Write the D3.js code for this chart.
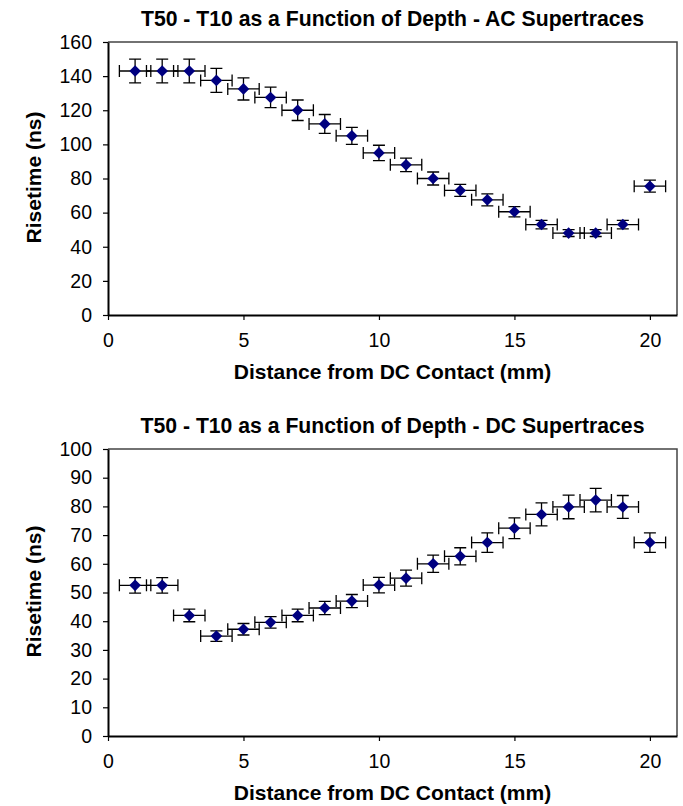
<!DOCTYPE html>
<html>
<head>
<meta charset="utf-8">
<script src="https://cdn.jsdelivr.net/npm/d3@7/dist/d3.min.js"></script>
<style>
	body { margin: 0; background: #fff; }
	svg text { font-family: Arial, "Liberation Sans", sans-serif; fill: #000; }
	.title { font-size: 21.2px; font-weight: bold; }
	.axis-title { font-size: 21px; font-weight: bold; }
	.tick text { font-size: 19.5px; }
	.frame { fill: none; stroke: #444; stroke-width: 1.5; }
	.axis path.domain { stroke: #000; stroke-width: 2; }
	.axis .tick line { stroke: #000; stroke-width: 1.2; }
	.errbar { stroke: #000; stroke-width: 1.3; fill: none; }
	.mark { fill: #000080; }
</style>
</head>
<body>
<div id="chart"></div>
<script>

	const depthMm = [ 1, 2, 3, 4, 5, 6, 7, 8, 9, 10, 11, 12, 13, 14, 15, 16, 17, 18, 19, 20 ];
	const depthError = 0.58;

	const acRisetime = [ 143, 143, 143, 137.5, 132.5, 127.5, 120, 112, 105, 95, 88, 80, 73, 67.5, 60.5, 53, 48, 48, 53, 75.5 ];
	const acError = [ 7, 7, 7, 7, 6.5, 6, 6, 5.5, 5, 4.5, 4, 3.8, 3.5, 3.5, 3, 2.5, 2, 2, 2.5, 3.5 ];

	const dcRisetime = [ 52.5, 52.5, 42, 34.8, 37.2, 39.6, 42, 44.6, 47, 52.6, 55, 60, 62.6, 67.4, 72.4, 77.2, 79.8, 82.2, 79.8, 67.4 ];
	const dcError = [ 2.7, 2.7, 2.2, 1.8, 2, 2, 2.2, 2.3, 2.3, 2.7, 2.8, 3, 3, 3.4, 3.6, 4, 4.1, 4.1, 4, 3.4 ];

	const xTicks = [ 0, 5, 10, 15, 20 ];
	const acTicks = [ 0, 20, 40, 60, 80, 100, 120, 140, 160 ];
	const dcTicks = [ 0, 10, 20, 30, 40, 50, 60, 70, 80, 90, 100 ];

	const width = 683;
	const height = 806;
	const plotLeft = 108;
	const plotRight = 677;
	const capHalf = 6;
	const markHalf = 5.8;

	const svg = d3.select("#chart")
					.append("svg")
						.attr("width", width)
						.attr("height", height);

	function drawPanel(panel) {

		const x = d3.scaleLinear()
						.domain([0, 21])
						.range([plotLeft, plotRight]);

		const y = d3.scaleLinear()
						.domain([0, d3.max(panel.ticks)])
						.range([panel.bottom, panel.top]);

		const g = svg.append("g").attr("class", "panel");

		// top / right border of the plot area
		g.append("path")
			.attr("class", "frame")
			.attr("d", `M${plotLeft},${panel.top}H${plotRight}V${panel.bottom}`);

		g.append("g")
			.attr("class", "axis")
			.attr("transform", `translate(${plotLeft},0)`)
			.call(d3.axisLeft(y).tickValues(panel.ticks).tickSize(5).tickPadding(11).tickSizeOuter(0));

		g.append("g")
			.attr("class", "axis")
			.attr("transform", `translate(0,${panel.bottom})`)
			.call(d3.axisBottom(x).tickValues(xTicks).tickSize(5).tickPadding(13).tickSizeOuter(0));

		const points = depthMm.map((d, i) => ({ depth: d, value: panel.values[i], err: panel.errors[i] }));

		const bars = g.append("g")
						.selectAll(".point")
							.data(points).enter()
						.append("g")
							.attr("class", "point");

		// vertical error bars
		bars.append("path")
			.attr("class", "errbar")
			.attr("d", (d) => {
				const cx = x(d.depth), y1 = y(d.value + d.err), y2 = y(d.value - d.err);
				return `M${cx},${y1}V${y2}M${cx - capHalf},${y1}H${cx + capHalf}M${cx - capHalf},${y2}H${cx + capHalf}`;
			});

		// horizontal error bars
		bars.append("path")
			.attr("class", "errbar")
			.attr("d", (d) => {
				const cy = y(d.value), x1 = x(d.depth - depthError), x2 = x(d.depth + depthError);
				return `M${x1},${cy}H${x2}M${x1},${cy - capHalf}V${cy + capHalf}M${x2},${cy - capHalf}V${cy + capHalf}`;
			});

		bars.append("path")
			.attr("class", "mark")
			.attr("d", (d) => {
				const cx = x(d.depth), cy = y(d.value);
				return `M${cx},${cy - markHalf}L${cx + markHalf},${cy}L${cx},${cy + markHalf}L${cx - markHalf},${cy}Z`;
			});

		g.append("text")
			.attr("class", "title")
			.attr("x", (plotLeft + plotRight) / 2)
			.attr("y", panel.top - 16)
			.attr("text-anchor", "middle")
			.text(panel.title);

		g.append("text")
			.attr("class", "axis-title")
			.attr("x", (plotLeft + plotRight) / 2)
			.attr("y", panel.bottom + 64)
			.attr("text-anchor", "middle")
			.text("Distance from DC Contact (mm)");

		g.append("text")
			.attr("class", "axis-title")
			.attr("transform", `translate(41,${(panel.top + panel.bottom) / 2 - 1})rotate(-90)`)
			.attr("text-anchor", "middle")
			.text("Risetime (ns)");
	}

	drawPanel({
		title: "T50 - T10 as a Function of Depth - AC Supertraces",
		top: 42,
		bottom: 315,
		ticks: acTicks,
		values: acRisetime,
		errors: acError
	});

	drawPanel({
		title: "T50 - T10 as a Function of Depth - DC Supertraces",
		top: 449,
		bottom: 736,
		ticks: dcTicks,
		values: dcRisetime,
		errors: dcError
	});

</script>
</body>
</html>
